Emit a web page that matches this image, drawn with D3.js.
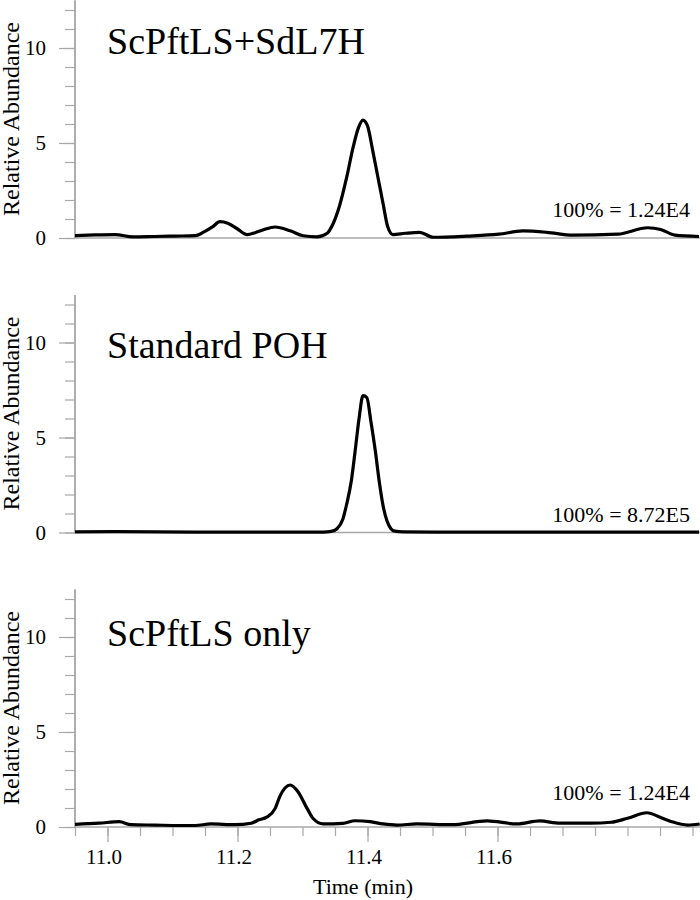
<!DOCTYPE html>
<html>
<head>
<meta charset="utf-8">
<script src="https://cdn.jsdelivr.net/npm/d3@7"></script>
<style>
  body { margin: 0; background: #fff; }
  svg { display: block; }
</style>
</head>
<body>
<svg id="chart" width="700" height="900"></svg>
<script>
const FONT = '"Liberation Serif", "Times New Roman", Times, "DejaVu Serif", serif';

// panel titles and scale notes
const panelTitles = ['ScPftLS+SdL7H', 'Standard POH', 'ScPftLS only'];
const panelNotes = ['100% = 1.24E4', '100% = 8.72E5', '100% = 1.24E4'];

// ticks
const xMajorTicks = [11.0, 11.2, 11.4, 11.6];
const xMinorTicks = [10.95, 11.0, 11.05, 11.1, 11.15, 11.2, 11.25, 11.3, 11.35, 11.4, 11.45, 11.5, 11.55, 11.6, 11.65, 11.7, 11.75, 11.8, 11.85, 11.9];
const yMajorTicks = [0, 5, 10];
const yMinorTicks = [0, 1, 2, 3, 4, 5, 6, 7, 8, 9, 10, 11, 12];

// trace 1: ScPftLS+SdL7H
const timeA = [10.95, 10.981, 11.012, 11.039, 11.073, 11.104, 11.135, 11.15, 11.162, 11.173, 11.185, 11.199, 11.215, 11.227, 11.239, 11.258, 11.281, 11.301, 11.322, 11.338, 11.347, 11.357, 11.368, 11.378, 11.386, 11.393, 11.4, 11.408, 11.416, 11.424, 11.431, 11.439, 11.458, 11.48, 11.501, 11.553, 11.602, 11.639, 11.676, 11.716, 11.785, 11.831, 11.851, 11.873, 11.91];
const abundA = [0.12, 0.16, 0.18, 0.06, 0.08, 0.1, 0.12, 0.35, 0.6, 0.86, 0.78, 0.5, 0.18, 0.28, 0.42, 0.58, 0.38, 0.12, 0.06, 0.25, 0.75, 1.7, 3.2, 4.8, 5.8, 6.2, 5.9, 4.6, 3.2, 1.8, 0.6, 0.18, 0.25, 0.3, 0.04, 0.1, 0.2, 0.37, 0.3, 0.15, 0.2, 0.54, 0.45, 0.15, 0.08];

// trace 2: Standard POH
const timeB = [10.95, 11.012, 11.135, 11.258, 11.332, 11.344, 11.353, 11.362, 11.368, 11.375, 11.381, 11.387, 11.393, 11.399, 11.405, 11.412, 11.418, 11.424, 11.43, 11.436, 11.442, 11.455, 11.504, 11.627, 11.75, 11.91];
const abundB = [0.03, 0.05, 0.02, 0.02, 0.02, 0.06, 0.2, 0.7, 1.5, 2.7, 4.3, 6.0, 7.2, 7.1, 5.9, 4.3, 2.7, 1.4, 0.6, 0.2, 0.07, 0.03, 0.02, 0.02, 0.02, 0.02];

// trace 3: ScPftLS only
const timeC = [10.95, 10.987, 11.018, 11.036, 11.073, 11.11, 11.135, 11.159, 11.196, 11.221, 11.233, 11.245, 11.258, 11.265, 11.281, 11.293, 11.307, 11.316, 11.332, 11.362, 11.381, 11.404, 11.424, 11.445, 11.476, 11.529, 11.584, 11.63, 11.665, 11.696, 11.743, 11.775, 11.8, 11.83, 11.851, 11.868, 11.893, 11.911];
const abundC = [0.14, 0.2, 0.28, 0.12, 0.1, 0.08, 0.08, 0.16, 0.12, 0.2, 0.38, 0.52, 0.98, 1.6, 2.21, 1.86, 0.98, 0.46, 0.16, 0.19, 0.33, 0.28, 0.16, 0.1, 0.16, 0.12, 0.32, 0.16, 0.32, 0.2, 0.2, 0.25, 0.46, 0.75, 0.5, 0.28, 0.1, 0.16];

const traces = [
  { time: timeA, abund: abundA },
  { time: timeB, abund: abundB },
  { time: timeC, abund: abundC }
];

const svg = d3.select('#chart');
const left = 75, right = 700;
const zeros = [238, 532.5, 827];
const titleOffsets = [184, 175, 181];
const noteOffsets = [21, 11, 27];
const panelH = 237.5;
const axisColor = '#a8a8a8';

const x = d3.scaleLinear().domain([10.95, 11.9115]).range([left, right]);

traces.forEach((tr, i) => {
  const y = d3.scaleLinear().domain([0, 12.5]).range([zeros[i], zeros[i] - panelH]);
  const g = svg.append('g');

  // baseline
  g.append('line')
    .attr('x1', left).attr('x2', right)
    .attr('y1', zeros[i]).attr('y2', zeros[i])
    .attr('stroke', axisColor).attr('stroke-width', 1.5);

  // y axis: minor ticks, then the labelled ones
  const yMinor = g.append('g')
    .attr('transform', `translate(${left},0)`)
    .call(d3.axisLeft(y).tickValues(yMinorTicks).tickSize(10).tickFormat(''));
  const yMajor = g.append('g')
    .attr('transform', `translate(${left},0)`)
    .call(d3.axisLeft(y).tickValues(yMajorTicks).tickSize(16).tickPadding(13));
  [yMinor, yMajor].forEach(a => {
    a.select('.domain').attr('stroke', axisColor).attr('stroke-width', 1.5)
      .attr('d', `M0,${y(12.5)}V${y(0)}`);
    a.selectAll('.tick line').attr('stroke', axisColor).attr('stroke-width', 1.2);
  });
  yMajor.selectAll('.tick text')
    .attr('font-family', FONT).attr('font-size', 21).attr('fill', '#000');

  g.append('text')
    .attr('transform', `translate(19,${zeros[i] - 119}) rotate(-90)`)
    .attr('text-anchor', 'middle')
    .attr('font-family', FONT).attr('font-size', 24)
    .text('Relative Abundance');

  g.append('text')
    .attr('x', 107).attr('y', zeros[i] - titleOffsets[i])
    .attr('font-family', FONT).attr('font-size', 38)
    .text(panelTitles[i]);

  g.append('text')
    .attr('x', 690).attr('y', zeros[i] - noteOffsets[i])
    .attr('text-anchor', 'end')
    .attr('font-family', FONT).attr('font-size', 22)
    .text(panelNotes[i]);

  const line = d3.line()
    .x((d, k) => x(tr.time[k]))
    .y(d => y(d))
    .curve(d3.curveMonotoneX);

  g.append('path')
    .datum(tr.abund)
    .attr('d', line)
    .attr('fill', 'none')
    .attr('stroke', '#000')
    .attr('stroke-width', 3.2)
    .attr('stroke-linejoin', 'round');
});

// x axis at the bottom
const xg = svg.append('g').attr('transform', `translate(0,${zeros[2]})`);
const xMinor = xg.append('g')
  .call(d3.axisBottom(x).tickValues(xMinorTicks).tickSize(9).tickFormat(''));
const xMajor = xg.append('g')
  .call(d3.axisBottom(x).tickValues(xMajorTicks).tickSize(15).tickPadding(7).tickFormat(d3.format('.1f')));
[xMinor, xMajor].forEach(a => {
  a.select('.domain').remove();
  a.selectAll('.tick line').attr('stroke', axisColor).attr('stroke-width', 1.2);
});
xMajor.selectAll('.tick text')
  .attr('dx', -4)
  .attr('font-family', FONT).attr('font-size', 21).attr('fill', '#000');

svg.append('text')
  .attr('x', 363).attr('y', 894)
  .attr('text-anchor', 'middle')
  .attr('font-family', FONT).attr('font-size', 22)
  .text('Time (min)');
</script>
</body>
</html>
